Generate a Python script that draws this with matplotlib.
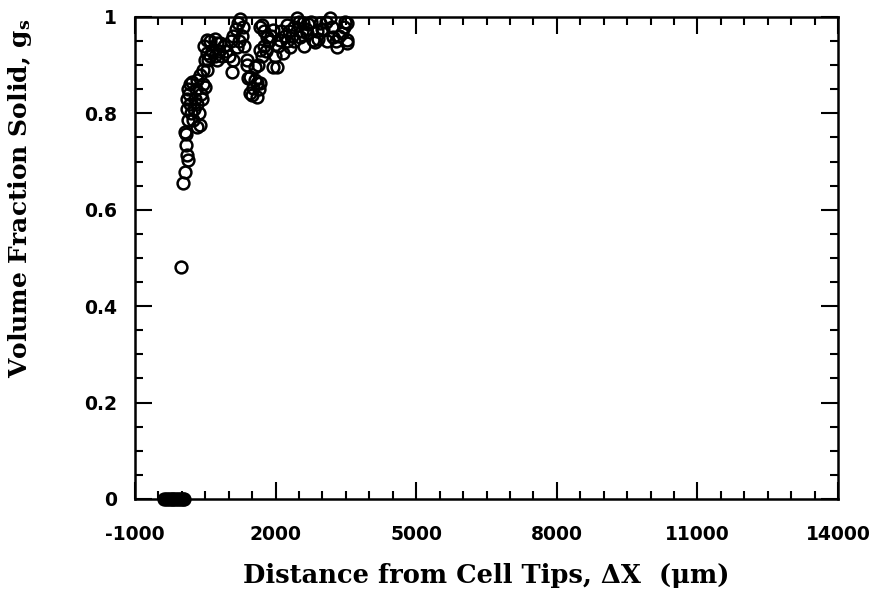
import matplotlib
matplotlib.use("Agg")
import matplotlib.pyplot as plt
from matplotlib.ticker import MultipleLocator

plt.rcParams['axes.unicode_minus'] = False
plt.rcParams['mathtext.fontset'] = 'custom'
plt.rcParams['mathtext.rm'] = 'DejaVu Serif'
plt.rcParams['mathtext.bf'] = 'DejaVu Serif:bold'

# distance from cell tips (um) and volume fraction solid
x_zero = [-380, -340, -300, -260, -220, -180, -140, -100, -60, -20, 20, 50]
y_zero = [0] * len(x_zero)

x_pts = [-10, 30, 60, 140, 100, 80, 90, 70, 140, 230, 390, 330,
         100, 110, 120, 150, 180, 200, 250, 280, 300, 330, 360, 400, 430, 460, 210, 320, 500, 170,
         380, 450, 530, 500, 560, 600, 530, 650, 700, 750, 800, 850, 480, 530, 600, 700, 750, 814,
         900, 950, 1000, 1062, 1100,
         1050, 1100, 1150, 1170, 1200, 1250, 1300, 1280, 1220, 1330,
         1383, 1383, 1420, 1454, 1454, 1490, 1520, 1560, 1596, 1596, 1640, 1667, 1560, 1620, 1667,
         1700, 1750, 1800,
         1667, 1702, 1750, 1810, 1850, 1900, 1950, 1950, 1990, 2023, 2060, 2094, 2120, 2160, 2200,
         2237, 2280, 2307, 2350, 2400, 2450, 2500, 2520, 2560, 2592, 2650, 2663, 2700, 2750, 2800,
         2841, 2880, 2947, 3000, 3020, 3080, 3161, 3200, 3232, 3280, 3303, 3350, 3410, 3450, 3517,
         3517, 3517, 3480, 2400, 2600, 2250, 3100, 2900]
y_pts = [0.482, 0.655, 0.678, 0.703, 0.714, 0.735, 0.758, 0.762, 0.786, 0.786, 0.776, 0.772,
         0.81, 0.83, 0.85, 0.84, 0.82, 0.80, 0.81, 0.83, 0.85, 0.82, 0.80, 0.84, 0.83, 0.86, 0.866, 0.87, 0.855, 0.86,
         0.88, 0.89, 0.89, 0.91, 0.91, 0.92, 0.925, 0.93, 0.92, 0.91, 0.93, 0.92, 0.94, 0.952, 0.95, 0.955, 0.945, 0.945,
         0.94, 0.93, 0.92, 0.886, 0.91,
         0.95, 0.96, 0.975, 0.938, 0.987, 0.995, 0.98, 0.96, 0.95, 0.94,
         0.911, 0.90, 0.873, 0.876, 0.842, 0.838, 0.853, 0.869, 0.835, 0.863, 0.85, 0.863, 0.897, 0.90, 0.931,
         0.92, 0.94, 0.93,
         0.98, 0.983, 0.97, 0.959, 0.95, 0.96, 0.973, 0.897, 0.92, 0.897, 0.94, 0.952, 0.97, 0.925, 0.96,
         0.983, 0.97, 0.938, 0.96, 0.98, 0.997, 0.99, 0.959, 0.97, 0.987, 0.975, 0.966, 0.985, 0.99, 0.952,
         0.949, 0.97, 0.987, 0.975, 0.973, 0.99, 0.997, 0.98, 0.959, 0.95, 0.938, 0.96, 0.966, 0.98, 0.987,
         0.952, 0.945, 0.99, 0.95, 0.94, 0.95, 0.95, 0.955]

xticks = [-1000, 2000, 5000, 8000, 11000, 14000]
yticks = [0, 0.2, 0.4, 0.6, 0.8, 1]
ylabels = ['0', '0.2', '0.4', '0.6', '0.8', '1']

fig = plt.figure(figsize=(8.79, 5.98), dpi=100)
ax = fig.add_axes([0.1536, 0.1656, 0.7998, 0.806])

ax.plot(x_zero + x_pts, y_zero + y_pts, 'o', mfc='none', mec='black',
        ms=8.5, mew=1.8, clip_on=False, zorder=3)

ax.set_xlim(-1000, 14000)
ax.set_ylim(0, 1)
ax.set_xticks(xticks)
ax.set_yticks(yticks)
ax.set_yticklabels(ylabels)
ax.xaxis.set_minor_locator(MultipleLocator(500))
ax.yaxis.set_minor_locator(MultipleLocator(0.05))

for s in ax.spines.values():
    s.set_linewidth(1.8)
ax.tick_params(which='both', direction='in', top=True, right=True, width=1.5)
ax.tick_params(which='major', length=12)
ax.tick_params(which='minor', length=6)
ax.tick_params(axis='x', which='major', pad=19)
ax.tick_params(axis='y', which='major', pad=13)
for lab in ax.get_xticklabels() + ax.get_yticklabels():
    lab.set_fontsize(13.5)
    lab.set_fontweight('bold')
    lab.set_fontfamily('DejaVu Sans')

ax.set_xlabel('Distance from Cell Tips, \u0394X  (\u03bcm)', family='DejaVu Serif',
              fontsize=18.5, fontweight='bold', va='center')
ax.xaxis.set_label_coords(0.5, -0.158)
ax.set_ylabel(r'Volume Fraction Solid, $\mathbf{g_s}$', family='DejaVu Serif',
              fontsize=18, fontweight='bold', va='center')
ax.yaxis.set_label_coords(-0.164, 0.624)

fig.savefig('out.png', dpi=100)
